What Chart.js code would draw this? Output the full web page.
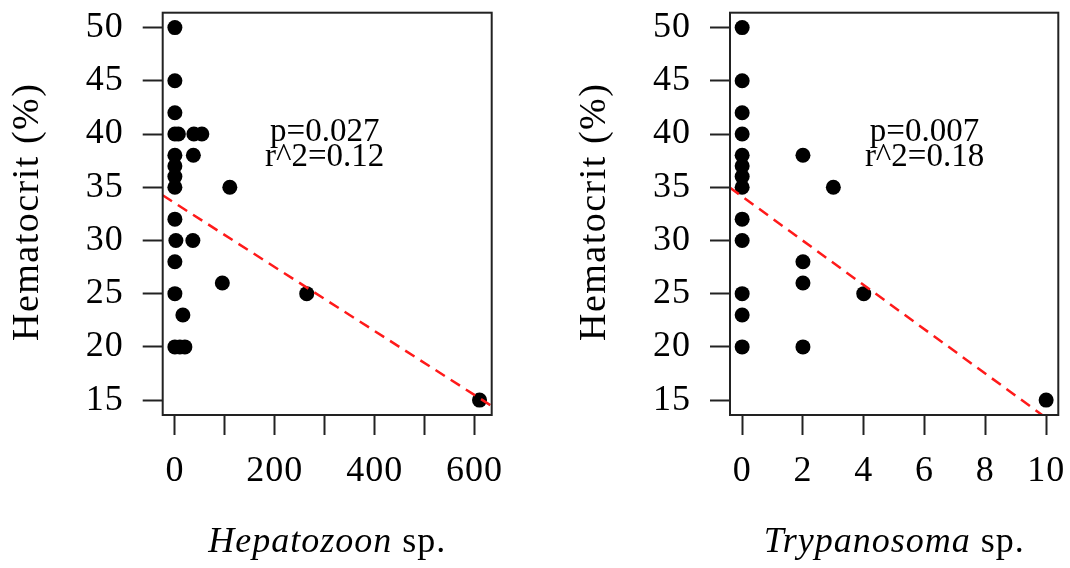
<!DOCTYPE html>
<html>
<head>
<meta charset="utf-8">
<script src="https://cdn.jsdelivr.net/npm/chart.js@4"></script>
<style>
  body { margin: 0; background: #fff; }
  canvas { position: absolute; top: 0; }
  #hep { left: 0; }
  #try { left: 535px; }
</style>
</head>
<body>
<canvas id="hep" width="535" height="568"></canvas>
<canvas id="try" width="535" height="568"></canvas>
<script>
// Hematocrit against parasite load, two panels drawn the way R's plot() does.

// Hepatozoon sp. (left panel)
const hepCount = [0, 0, 0, 0, 7, 38, 54, 0, 37, 0, 0, 0, 110, 0, 2, 36, 0, 95, 0, 264, 16, 0, 10, 20, 610];
const hepHct   = [50, 45, 42, 40, 40, 40, 40, 38, 38, 37, 36, 35, 35, 32, 30, 30, 28, 26, 25, 25, 23, 20, 20, 20, 15];
const hepFit = [33.51, -0.03005]; // intercept, slope of the dashed line
const hepRange = [-24.4, 634.4];
const hepStats = ["p=0.027", "r^2=0.12"];

// Trypanosoma sp. (right panel)
const tryCount = [0, 0, 0, 0, 0, 0, 0, 0, 0, 0, 0, 0, 0, 2, 2, 2, 2, 3, 4, 10];
const tryHct   = [50, 45, 42, 40, 38, 37, 36, 35, 32, 30, 25, 23, 20, 38, 28, 26, 20, 35, 25, 15];
const tryFit = [34.13, -2.08];
const tryRange = [-0.4, 10.4];
const tryStats = ["p=0.007", "r^2=0.18"];

const hctRange = [13.6, 51.4];
const hctStep = 5;
const yTitle = "Hematocrit (%)";

const SERIF = "'Liberation Serif', 'DejaVu Serif', serif";

Chart.defaults.color = "#000";
Chart.defaults.font.family = SERIF;

// box around the plot region, axis titles and the fit text
const rPlot = {
  id: "rPlot",
  beforeDraw(chart) {
    chart.ctx.letterSpacing = "1px";
  },
  afterDraw(chart, args, opts) {
    const { ctx, chartArea: a, scales } = chart;
    ctx.save();
    ctx.strokeStyle = "#222";
    ctx.lineWidth = 2;
    ctx.strokeRect(a.left, a.top, a.right - a.left, a.bottom - a.top);

    ctx.fillStyle = "#000";
    // x title: italic genus followed by upright " sp."
    ctx.letterSpacing = "1px";
    ctx.textBaseline = "alphabetic";
    ctx.textAlign = "left";
    ctx.font = "italic 36px " + SERIF;
    const w1 = ctx.measureText(opts.genus).width;
    ctx.font = "36px " + SERIF;
    const w2 = ctx.measureText(" sp.").width;
    const x = (a.left + a.right) / 2 - (w1 + w2) / 2;
    ctx.font = "italic 36px " + SERIF;
    ctx.fillText(opts.genus, x, 552);
    ctx.font = "36px " + SERIF;
    ctx.fillText(" sp.", x + w1, 552);

    // y title
    ctx.save();
    ctx.letterSpacing = "1.5px";
    ctx.font = "38px " + SERIF;
    ctx.translate(a.left - 134.7, (a.top + a.bottom) / 2 - 2);
    ctx.rotate(-Math.PI / 2);
    ctx.textAlign = "center";
    ctx.textBaseline = "middle";
    ctx.fillText(yTitle, 0, 0);
    ctx.restore();

    // p and r^2, centred on a data position like text() in R
    ctx.letterSpacing = "0px";
    ctx.font = "33px " + SERIF;
    ctx.textAlign = "center";
    ctx.textBaseline = "middle";
    const px = scales.x.getPixelForValue(opts.statX);
    ctx.fillText(opts.stats[0], px, scales.y.getPixelForValue(40.15));
    ctx.fillText(opts.stats[1], px, scales.y.getPixelForValue(37.85));
    ctx.restore();
  },
};

function makePanel(canvasId, counts, hct, fit, range, xStep, labelEvery, stats, statX, genus, yAxisWidth, rightPad) {
  const points = counts.map((c, i) => ({ x: c, y: hct[i] }));
  const fitLine = range.map((v) => ({ x: v, y: fit[0] + fit[1] * v }));

  return new Chart(document.getElementById(canvasId), {
    type: "scatter",
    data: {
      datasets: [
        {
          type: "line",
          data: fitLine,
          borderColor: "#ff1a1a",
          borderWidth: 2.5,
          borderDash: [11, 7],
          pointRadius: 0,
          fill: false,
        },
        {
          data: points,
          backgroundColor: "#000",
          borderWidth: 0,
          pointRadius: 7.5,
          pointHoverRadius: 7.5,
        },
      ],
    },
    options: {
      responsive: false,
      animation: false,
      events: [],
      layout: { padding: { left: 0, right: rightPad, top: 12.7, bottom: 0 } },
      plugins: {
        legend: { display: false },
        tooltip: { enabled: false },
        rPlot: { genus: genus, stats: stats, statX: statX },
      },
      scales: {
        x: {
          type: "linear",
          min: range[0],
          max: range[1],
          border: { display: false },
          grid: { drawOnChartArea: false, drawTicks: true, tickLength: 20, tickColor: "#222", tickWidth: 2 },
          ticks: {
            stepSize: xStep,
            includeBounds: false,
            maxRotation: 0,
            autoSkip: false,
            padding: 15,
            font: { size: 36, lineHeight: 1.2 },
            callback: (v) => (v % labelEvery === 0 ? String(v) : ""),
          },
          afterFit(scale) {
            scale.height = 153;
            scale.paddingLeft = scale.paddingRight = 0;
          },
        },
        y: {
          type: "linear",
          min: hctRange[0],
          max: hctRange[1],
          border: { display: false },
          grid: { drawOnChartArea: false, drawTicks: true, tickLength: 20, tickColor: "#222", tickWidth: 2 },
          ticks: {
            stepSize: hctStep,
            includeBounds: false,
            autoSkip: false,
            padding: 19,
            font: { size: 36 },
          },
          afterFit(scale) {
            scale.width = yAxisWidth;
            scale.paddingTop = scale.paddingBottom = 0;
          },
        },
      },
    },
    plugins: [rPlot],
  });
}

makePanel("hep", hepCount, hepHct, hepFit, hepRange, 100, 200, hepStats, 300, "Hepatozoon", 162.7, 43.3);
makePanel("try", tryCount, tryHct, tryFit, tryRange, 2, 2, tryStats, 6, "Trypanosoma", 195, 11.7);
</script>
</body>
</html>
